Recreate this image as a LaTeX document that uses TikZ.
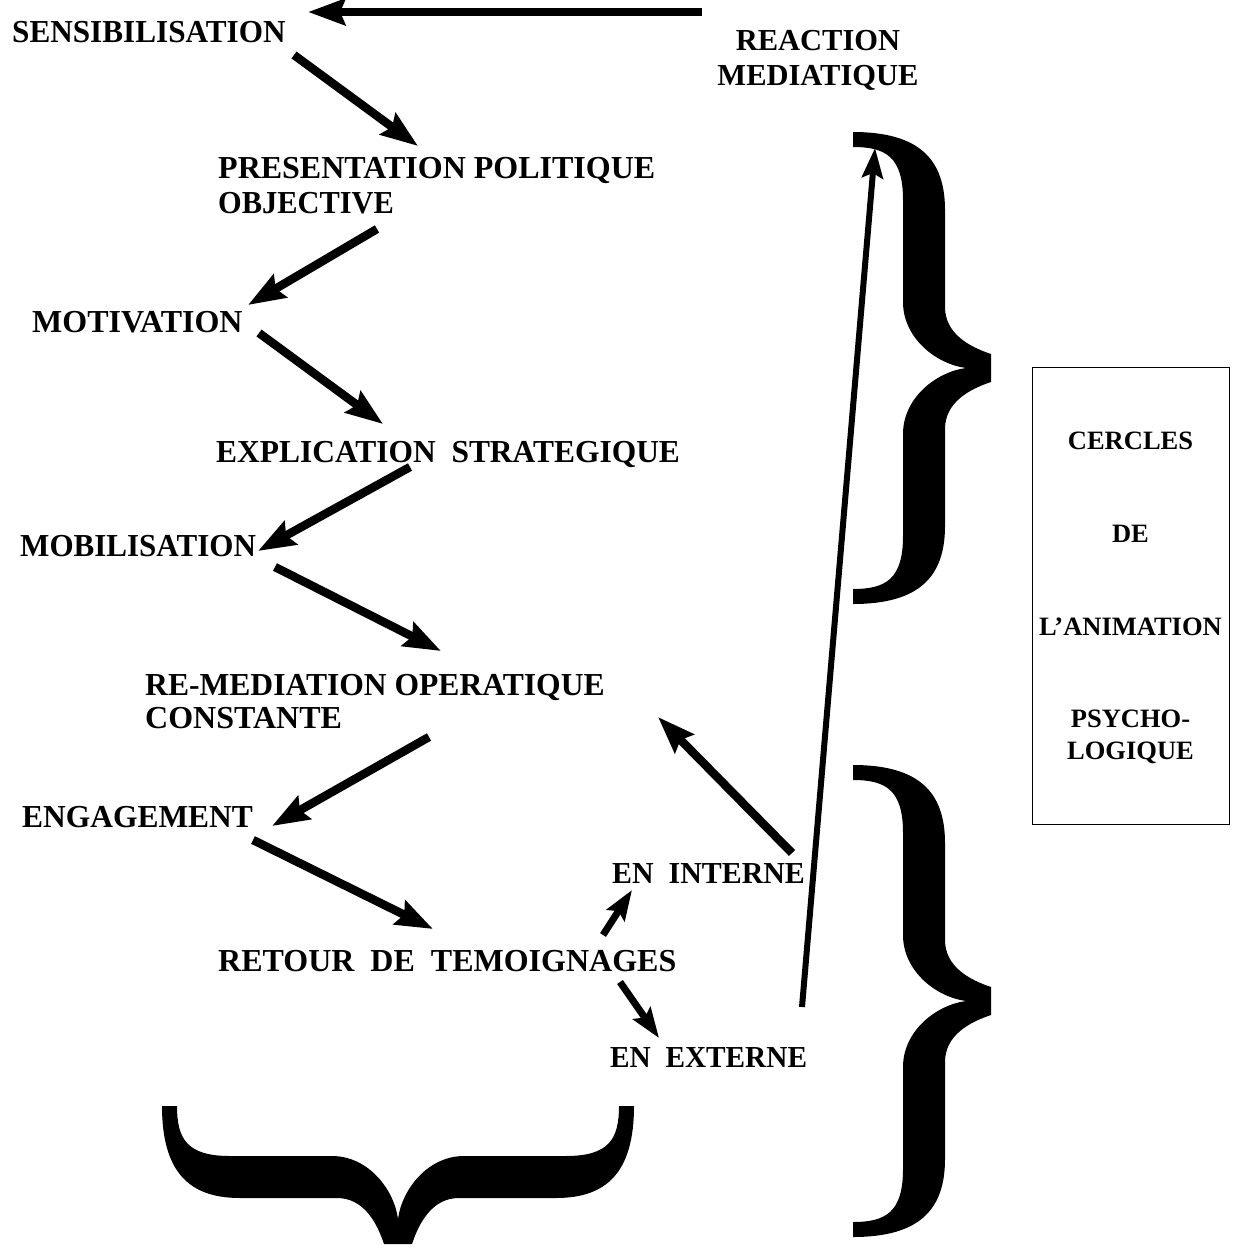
\documentclass[tikz,border=0pt]{standalone}
\usepackage{graphicx}
\usepackage{fontspec}
\setmainfont{Liberation Serif}
\usetikzlibrary{arrows.meta}
% horizontally condensed text
\newcommand\narrowed[2]{\scalebox{#1}[1]{#2}}
\tikzset{
  lbl/.style={inner sep=0pt, font=\fontsize{32}{34}\selectfont\bfseries},
  sidelbl/.style={inner sep=0pt, font=\fontsize{30.5}{33}\selectfont\bfseries},
  boxlbl/.style={inner sep=0pt, font=\fontsize{26.5}{28}\selectfont\bfseries},
  bigarrow/.style={line width=8.5pt, -{Stealth[length=37pt,width=26pt,inset=5pt]}},
  midarrow/.style={line width=7pt, -{Stealth[length=30pt,width=21pt,inset=5pt]}},
  thinarrow/.style={line width=6pt, -{Stealth[length=30pt,width=21pt,inset=5pt]}},
  framebox/.style={draw, line width=1pt, inner sep=0pt},
  % curly brace: first coordinate = depth, second = span
  bigbrace/.pic={
    \fill (0,0) .. controls (67,0) and (92,28) .. (92,78) -- (92,175)
      .. controls (92,202) and (117,215) .. (138,222) -- (138,250)
      .. controls (117,257) and (92,270) .. (92,297) -- (92,394)
      .. controls (92,444) and (67,472) .. (0,472) -- (0,457)
      .. controls (33,457) and (50,447) .. (50,404) -- (50,302)
      .. controls (50,266) and (83,240) .. (113,236)
      .. controls (83,232) and (50,206) .. (50,170) -- (50,68)
      .. controls (50,25) and (33,15) .. (0,15) -- cycle;
  }
}
\begin{document}
\begin{tikzpicture}[x=1pt,y=-1pt]
\useasboundingbox (0,0) rectangle (1236,1250);

% stages
\node[lbl, anchor=base west] (sens) at (12,42) {\narrowed{0.975}{SENSIBILISATION}};
\node[sidelbl, anchor=base] (reac) at (818,50) {REACTION};
\node[sidelbl, anchor=base] (reacb) at (818,85) {MEDIATIQUE};
\node[lbl, anchor=base west] (pres) at (218,178) {PRESENTATION POLITIQUE};
\node[lbl, anchor=base west] (presb) at (218,213) {\narrowed{0.95}{OBJECTIVE}};
\node[lbl, anchor=base west] (motiv) at (32,332) {MOTIVATION};
\node[lbl, anchor=base west] (expl) at (216,462) {\narrowed{0.983}{EXPLICATION\ \ STRATEGIQUE}};
\node[lbl, anchor=base west] (mobil) at (20,556) {\narrowed{0.97}{MOBILISATION}};
\node[lbl, anchor=base west] (remed) at (145,695) {\narrowed{0.987}{RE-MEDIATION OPERATIQUE}};
\node[lbl, anchor=base west] (remedb) at (145,728) {CONSTANTE};
\node[lbl, anchor=base west] (engag) at (22,827) {\narrowed{0.983}{ENGAGEMENT}};
\node[lbl, anchor=base west] (retour) at (218,971) {RETOUR\ \ DE\ \ TEMOIGNAGES};
\node[sidelbl, anchor=base west] (enint) at (612,883) {\narrowed{0.98}{EN\ \ INTERNE}};
\node[sidelbl, anchor=base west] (enext) at (610,1067) {\narrowed{0.96}{EN\ \ EXTERNE}};

% side box
\node[framebox, anchor=north west, minimum width=197pt, minimum height=457pt] (box) at (1032,367) {};
\node[boxlbl, anchor=base] (c1) at (1130.5,449) {CERCLES};
\node[boxlbl, anchor=base] (c2) at (1130.5,542) {DE};
\node[boxlbl, anchor=base] (c3) at (1130.5,635) {L'ANIMATION};
\node[boxlbl, anchor=base] (c4) at (1130.5,727) {PSYCHO-};
\node[boxlbl, anchor=base] (c5) at (1130.5,759) {LOGIQUE};

% connector ends
\coordinate (a1s) at (702,12);   \coordinate (a1e) at (308,12);
\coordinate (a2s) at (294,55);   \coordinate (a2e) at (418,146);
\coordinate (a3s) at (377,229);  \coordinate (a3e) at (248,305);
\coordinate (a4s) at (259,333);  \coordinate (a4e) at (383,424);
\coordinate (a5s) at (410,467);  \coordinate (a5e) at (258,551);
\coordinate (a6s) at (275,567);  \coordinate (a6e) at (441,651);
\coordinate (a7s) at (429,737);  \coordinate (a7e) at (272,826);
\coordinate (a8s) at (253,840);  \coordinate (a8e) at (433,929);
\coordinate (a9s) at (603,935);  \coordinate (a9e) at (632,890);
\coordinate (a10s) at (620,982); \coordinate (a10e) at (659,1038);
\coordinate (a11s) at (792,853); \coordinate (a11e) at (658,717);
\coordinate (a12s) at (802,1007); \coordinate (a12e) at (875,148);

\draw[bigarrow] (a1s) -- (a1e);
\draw[bigarrow] (a2s) -- (a2e);
\draw[bigarrow] (a3s) -- (a3e);
\draw[bigarrow] (a4s) -- (a4e);
\draw[bigarrow] (a5s) -- (a5e);
\draw[bigarrow] (a6s) -- (a6e);
\draw[bigarrow] (a7s) -- (a7e);
\draw[bigarrow] (a8s) -- (a8e);
\draw[midarrow] (a9s) -- (a9e);
\draw[midarrow] (a10s) -- (a10e);
\draw[bigarrow] (a11s) -- (a11e);
\draw[thinarrow] (a12s) -- (a12e);

% braces
\begin{scope}[shift={(853pt,-132pt)}, x={(1pt,0pt)}, y={(0pt,-1pt)}]
  \pic {bigbrace};
\end{scope}
\begin{scope}[shift={(853pt,-765pt)}, x={(1pt,0pt)}, y={(0pt,-1pt)}]
  \pic {bigbrace};
\end{scope}
\begin{scope}[shift={(162pt,-1106pt)}, x={(0pt,-1pt)}, y={(1pt,0pt)}]
  \pic {bigbrace};
\end{scope}
\end{tikzpicture}
\end{document}
